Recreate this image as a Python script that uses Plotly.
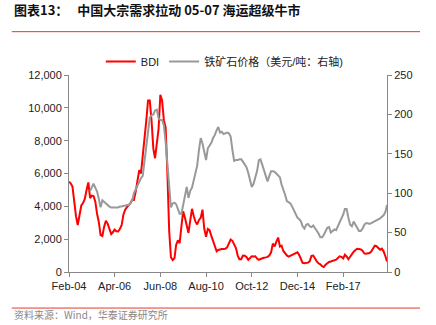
import pandas as pd
import plotly.graph_objects as go

# Monthly observations, Feb-2004 .. Mar-2019
bdi_start = "2004-02-01"
bdi = [5500, 5400, 5200, 4100, 3400, 2860, 3450, 4050, 4200, 4450, 4990, 5460,
       4500, 4650, 4620, 4300, 3550, 3050, 2250, 2190, 2750, 3120, 2950, 2600,
       2310, 2420, 2580, 2480, 2470, 2620, 2860, 3500, 3800, 3950, 4050, 4200,
       4400, 4390, 4900, 5600, 6200, 6000, 7000, 7900, 9200, 10450, 10450, 9200,
       7500, 6930, 8060, 8700, 10800, 10450, 9250, 8800, 6000, 2500, 900, 730,
       850, 1650, 1930, 1750, 2800, 3700, 3300, 2860, 2380, 3150, 3850, 3400,
       3050, 2900, 3170, 3300, 3800, 2650, 2150, 2620, 2550, 2200, 1900, 1660,
       1260, 1340, 1380, 1400, 1400, 1420, 1500, 1800, 1980, 1900, 1700, 1460,
       1000, 780, 780, 1000, 990, 910, 740, 880, 960, 950, 960, 820,
       740, 790, 850, 870, 890, 920, 1000, 1200, 1730, 1560, 1850, 2100,
       1550, 1600, 1280, 1120, 1010, 940, 990, 1040, 1110, 1180, 1200, 1030,
       800, 560, 530, 530, 570, 650, 980, 1000, 800, 650, 530, 470,
       350, 300, 450, 560, 610, 640, 670, 700, 750, 850, 950, 920,
       830, 1050, 950, 780, 960, 1100, 1240, 1340, 1420, 1400, 1380, 1300,
       1130, 1110, 1120, 1160, 1250, 1430, 1600, 1570, 1450, 1360, 1420, 1260,
       960, 640]

ore_start = "2005-02-01"
ore = [103, 108, 112, 107, 102, 93, 82, 91, 89, 86, 84, 83,
       82, 82, 82, 82, 82, 83, 83, 84, 84, 85, 85, 87,
       91, 100, 105, 110, 115, 119, 122, 140, 160, 180, 196, 199,
       200, 205, 206, 195, 193, 193, 186, 165, 135, 100, 82, 87,
       88, 86, 79, 74, 74, 86, 97, 108, 94, 103, 107, 117,
       125, 135, 155, 170, 163, 150, 142, 157, 160, 164, 170, 174,
       180, 184, 177, 178, 175, 176, 177, 176, 172, 155, 141, 142,
       142, 143, 143, 140, 136, 133, 126, 116, 108, 112, 120, 128,
       142, 143, 136, 128, 123, 115, 122, 128, 128, 127, 125, 123,
       120, 111, 105, 98, 90, 88, 87, 83, 78, 73, 69, 67,
       64, 58, 55, 60, 61, 58, 57, 59, 56, 52, 49, 44,
       44, 47, 51, 56, 57, 50, 52, 54, 53, 58, 64, 69,
       73, 80, 80, 69, 60, 58, 64, 60, 55, 52, 52, 55,
       60, 62, 62, 61, 62, 63, 64, 65, 66, 68, 70, 72,
       76, 85]

bdi_dates = pd.date_range(bdi_start, periods=len(bdi), freq="MS")
ore_dates = pd.date_range(ore_start, periods=len(ore), freq="MS")

tick_dates = ["2004-02-01", "2006-04-01", "2008-06-01", "2010-08-01",
              "2012-10-01", "2014-12-01", "2017-02-01"]
tick_labels = ["Feb-04", "Apr-06", "Jun-08", "Aug-10", "Oct-12", "Dec-14", "Feb-17"]

title = "图表13：   中国大宗需求拉动 05-07 海运超级牛市"
source = "资料来源：Wind，华泰证券研究所"

fig = go.Figure()
fig.add_trace(go.Scatter(x=bdi_dates, y=bdi, name="BDI", mode="lines",
                         line=dict(color="#ff0000", width=2)))
fig.add_trace(go.Scatter(x=ore_dates, y=ore, name="铁矿石价格（美元/吨：右轴)", mode="lines",
                         line=dict(color="#999999", width=2), yaxis="y2"))

axis_col = "#888888"
fig.update_layout(
    width=436, height=325,
    margin=dict(l=69, r=49, t=75, b=53),
    paper_bgcolor="white", plot_bgcolor="white",
    font=dict(family="Liberation Sans, Noto Sans CJK SC", size=11, color="#222222"),
    showlegend=True,
    legend=dict(orientation="h", x=0.1, y=1.068, xanchor="left", yanchor="middle",
                font=dict(size=11, family="Liberation Sans, Noto Sans CJK SC"),
                itemwidth=30, tracegroupgap=0, bgcolor="rgba(0,0,0,0)"),
    xaxis=dict(type="date", range=["2004-02-01", "2019-03-01"],
               tickvals=tick_dates, ticktext=tick_labels,
               showgrid=False, zeroline=False, showline=True, linecolor=axis_col,
               linewidth=1, ticks="outside", ticklen=4, tickcolor=axis_col,
               tickfont=dict(size=11, color="#222222")),
    yaxis=dict(range=[0, 12000], dtick=2000, tickformat=",",
               showgrid=False, zeroline=False, showline=True, linecolor=axis_col,
               linewidth=1, ticks="outside", ticklen=4, tickcolor=axis_col,
               tickfont=dict(size=11, color="#222222")),
    yaxis2=dict(range=[0, 250], dtick=50, overlaying="y", side="right",
                showgrid=False, zeroline=False, showline=True, linecolor=axis_col,
                linewidth=1, ticks="outside", ticklen=4, tickcolor=axis_col,
                tickfont=dict(size=11, color="#222222")),
)

fig.add_annotation(text="<b>" + title + "</b>", xref="paper", yref="paper",
                   x=-0.18, y=1.33, xanchor="left", yanchor="middle", showarrow=False,
                   font=dict(size=13, color="#111111", family="Noto Sans CJK SC"))
fig.add_annotation(text=source, xref="paper", yref="paper",
                   x=-0.18, y=-0.262, xanchor="left", yanchor="bottom", showarrow=False,
                   font=dict(size=10, color="#888888", family="Noto Sans CJK SC"))
fig.add_shape(type="line", xref="paper", yref="paper", x0=-0.18, x1=1.104, y0=1.22, y1=1.22,
              line=dict(color="#e8382a", width=1))
fig.add_shape(type="line", xref="paper", yref="paper", x0=-0.18, x1=1.104, y0=-0.183, y1=-0.183,
              line=dict(color="#e8382a", width=1))

fig.write_html("out.html")
